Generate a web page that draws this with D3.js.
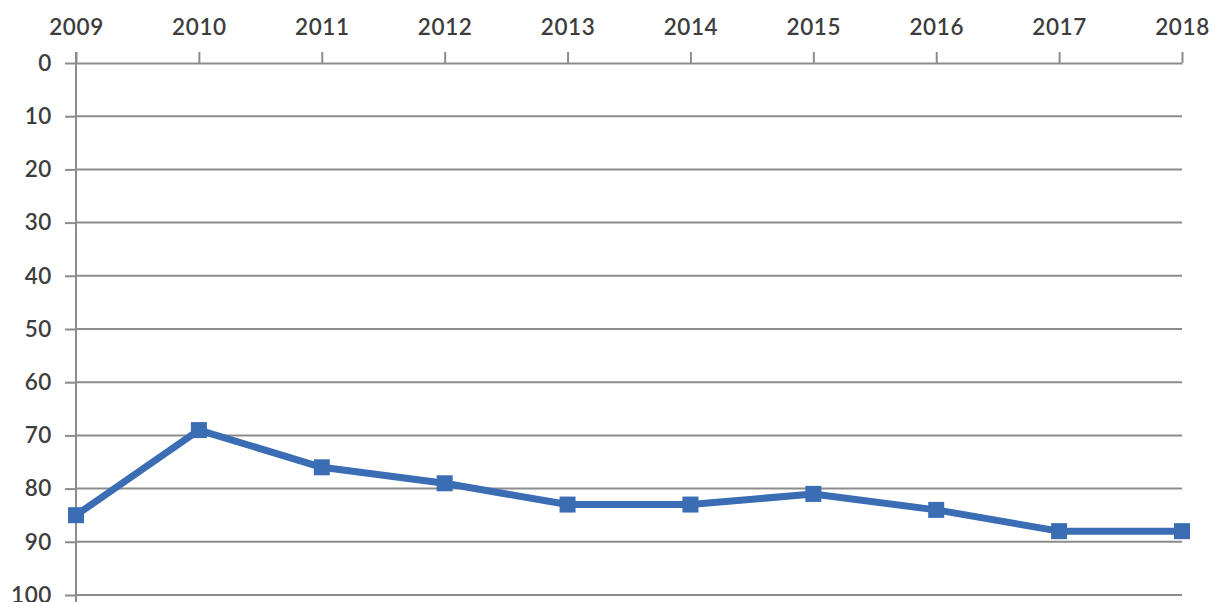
<!DOCTYPE html>
<html><head><meta charset="utf-8">
<script src="https://cdn.jsdelivr.net/npm/d3@7"></script>
<style>
html,body{margin:0;padding:0;background:#fff;}
svg text{font-family:Lato, "Open Sans", sans-serif;}
</style></head>
<body>
<svg id="chart" width="1220" height="602"></svg>
<script>
const years = [2009,2010,2011,2012,2013,2014,2015,2016,2017,2018];
const values = [85,69,76,79,83,83,81,84,88,88];
const yTicks = [0,10,20,30,40,50,60,70,80,90,100];

const svg = d3.select("#chart");
const x = d3.scalePoint().domain(years).range([76,1182]);
const y = d3.scaleLinear().domain([0,100]).range([63,595]);

// gridlines
svg.append("g").selectAll("line").data(yTicks.slice(1)).join("line")
  .attr("x1",76).attr("x2",1182).attr("y1",d=>y(d)).attr("y2",d=>y(d))
  .attr("stroke","#8c8c8c").attr("stroke-width",2);

// top axis
const xAxis = svg.append("g").attr("transform",`translate(0,${y(0)})`)
  .call(d3.axisTop(x).tickSize(11).tickSizeOuter(0).tickPadding(17));
xAxis.select(".domain").attr("stroke","#8c8c8c").attr("stroke-width",2);
xAxis.selectAll(".tick line").attr("stroke","#8c8c8c").attr("stroke-width",2);
xAxis.selectAll("text").attr("fill","#3d3d3d").attr("font-size",22.5).attr("font-weight",600)
  .attr("letter-spacing",0.6).attr("dy",0);

// left axis
const yAxis = svg.append("g").attr("transform",`translate(${x(2009)},0)`)
  .call(d3.axisLeft(y).tickValues(yTicks).tickSize(11).tickSizeOuter(0).tickPadding(13));
yAxis.select(".domain").attr("stroke","#8c8c8c").attr("stroke-width",2).attr("d",`M0,${y(0)-11}V${y(100)+7}`);
yAxis.selectAll(".tick line").attr("stroke","#8c8c8c").attr("stroke-width",2);
yAxis.selectAll("text").attr("fill","#3d3d3d").attr("font-size",22.5).attr("font-weight",600)
  .attr("letter-spacing",0.6);

// line
const data = years.map((yr,i)=>({yr, v:values[i]}));
svg.append("path").datum(data)
  .attr("fill","none").attr("stroke","#3b6db5").attr("stroke-width",7).attr("stroke-linejoin","round")
  .attr("d", d3.line().x(d=>x(d.yr)).y(d=>y(d.v)));
svg.append("g").selectAll("rect").data(data).join("rect")
  .attr("x",d=>x(d.yr)-8).attr("y",d=>y(d.v)-8).attr("width",16).attr("height",16)
  .attr("fill","#3b6db5");
</script>
</body></html>
